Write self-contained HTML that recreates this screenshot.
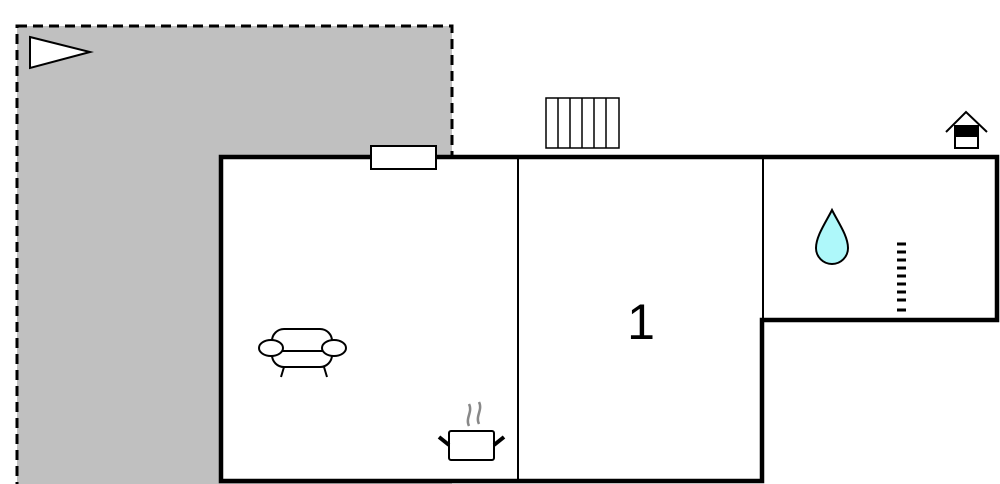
<!DOCTYPE html>
<html><head><style>body{margin:0;background:#fff}svg{display:block}</style></head><body>
<svg width="1000" height="484" viewBox="0 0 1000 484" xmlns="http://www.w3.org/2000/svg">
<rect x="17" y="26" width="435" height="470" fill="#c0c0c0" stroke="#000" stroke-width="3" stroke-dasharray="10,6"/>
<polygon points="30,37 90,52 30,68" fill="#fff" stroke="#000" stroke-width="2"/>
<polygon points="221,157 997,157 997,320 762,320 762,481 221,481" fill="#fff" stroke="#000" stroke-width="4.5"/>
<line x1="518" y1="157" x2="518" y2="481" stroke="#000" stroke-width="2"/>
<line x1="763" y1="157" x2="763" y2="320" stroke="#000" stroke-width="2"/>
<rect x="371" y="146" width="65" height="23" fill="#fff" stroke="#000" stroke-width="2"/>
<g stroke="#000" stroke-width="1.5" fill="#fff">
<rect x="546" y="98" width="73" height="50"/>
<line x1="558" y1="98" x2="558" y2="148"/><line x1="570" y1="98" x2="570" y2="148"/><line x1="582" y1="98" x2="582" y2="148"/><line x1="594" y1="98" x2="594" y2="148"/><line x1="606" y1="98" x2="606" y2="148"/>
</g>
<polyline points="946,132 966,112 987,132" fill="none" stroke="#000" stroke-width="2"/>
<rect x="955" y="126" width="23" height="22" fill="#fff" stroke="#000" stroke-width="2"/>
<rect x="955" y="126" width="23" height="11" fill="#000"/>
<path d="M832,210 C838,222 848,236 848,248 A16,16 0 0 1 816,248 C816,236 826,222 832,210 Z" fill="#aef8fa" stroke="#000" stroke-width="2"/>
<g stroke="#000" stroke-width="3">
<line x1="897" y1="244" x2="906" y2="244"/><line x1="897" y1="252" x2="906" y2="252"/><line x1="897" y1="260" x2="906" y2="260"/><line x1="897" y1="268" x2="906" y2="268"/><line x1="897" y1="276" x2="906" y2="276"/><line x1="897" y1="284" x2="906" y2="284"/><line x1="897" y1="292" x2="906" y2="292"/><line x1="897" y1="300" x2="906" y2="300"/><line x1="897" y1="310" x2="906" y2="310"/>
</g>
<text x="641" y="339" font-family="Liberation Sans, sans-serif" font-size="50" text-anchor="middle">1</text>
<g fill="#fff" stroke="#000" stroke-width="2">
<rect x="272" y="329" width="60" height="38" rx="12"/>
<line x1="280" y1="351" x2="325" y2="351"/>
<ellipse cx="271" cy="348" rx="12" ry="8"/>
<ellipse cx="334" cy="348" rx="12" ry="8"/>
<line x1="284" y1="367" x2="281" y2="377"/><line x1="324" y1="367" x2="327" y2="377"/>
</g>
<path d="M469,426 c-4,-8 4,-14 0,-22 M479,424 c-4,-8 4,-14 0,-22" fill="none" stroke="#888" stroke-width="2.5"/>
<rect x="449" y="431" width="45" height="29" rx="2" fill="#fff" stroke="#000" stroke-width="2"/>
<line x1="439" y1="437" x2="449" y2="445" stroke="#000" stroke-width="4"/>
<line x1="494" y1="445" x2="504" y2="437" stroke="#000" stroke-width="4"/>
</svg>
</body></html>
